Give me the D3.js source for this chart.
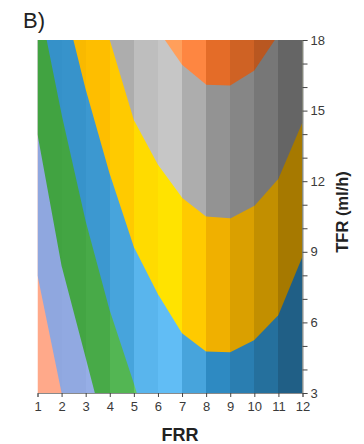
<!DOCTYPE html>
<html>
<head>
<meta charset="utf-8">
<script src="https://cdn.jsdelivr.net/npm/d3@7"></script>
<style>
  body { margin: 0; background: #fff; }
  svg { display: block; }
  text { font-family: "Liberation Sans", Arial, sans-serif; }
</style>
</head>
<body>
<svg id="chart" width="364" height="444"></svg>
<script>
// Axis ticks
const frrTicks = [1, 2, 3, 4, 5, 6, 7, 8, 9, 10, 11, 12];
const tfrTicks = [3, 6, 9, 12, 15, 18];
const tfrMinorTicks = [3, 4, 5, 6, 7, 8, 9, 10, 11, 12, 13, 14, 15, 16, 17, 18];

// Contour levels, lowest to highest
const levelNames = ["L1", "L2", "L3", "L4", "L5", "L6", "L7"];

// Lower/left edge of each level region as [FRR, TFR] points
const edgeL1 = [[1, 3]];
const edgeL2 = [[1, 8.0], [2.0, 3]];
const edgeL3 = [[1, 14.0], [2, 8.4], [3, 4.5], [3.38, 3]];
const edgeL4 = [[1.38, 18], [2, 14.84], [3, 10.3], [4, 6.5], [5, 3.4], [5.12, 3]];
const edgeL5 = [[2.49, 18], [3, 15.9], [4, 12.3], [5, 9.2], [6, 7.2], [7, 5.54], [8, 4.76], [9, 4.73], [10, 5.25], [11, 6.31], [12, 8.8]];
const edgeL6 = [[4, 18], [5, 14.6], [6, 12.7], [7, 11.3], [8, 10.5], [9, 10.42], [10, 10.95], [11, 12.1], [12, 14.5]];
const edgeL7 = [[6.29, 18], [7, 16.95], [8, 16.1], [9, 16.07], [10, 16.7], [10.85, 18]];

const levelEdges = [edgeL1, edgeL2, edgeL3, edgeL4, edgeL5, edgeL6, edgeL7];

// Styling: base colour per level and a lighting value per FRR column
const levelColors = ["#faa283", "#88a0d8", "#3a9c3a", "#2e8ac2", "#f0b000", "#939393", "#e46c28"];
const columnLight = [1.04, 1.05, 1.08, 1.15, 1.25, 1.3, 1.15, 1.0, 0.91, 0.81, 0.69];

const plot = { left: 37.5, right: 302.5, top: 40, bottom: 393 };

const svg = d3.select("#chart");

const x = d3.scaleLinear().domain([1, 12]).range([plot.left, plot.right]);
const y = d3.scaleLinear().domain([3, 18]).range([plot.bottom, plot.top]);

const [xMin, xMax] = x.domain();
const [yMin, yMax] = y.domain();

// Close a level edge into a polygon covering everything above/right of it
function levelPolygon(edge) {
  const pts = edge.slice();
  const first = edge[0], last = edge[edge.length - 1];
  if (last[1] === yMin) pts.push([xMax, yMin]);
  if (last[1] === yMin || last[0] === xMax) pts.push([xMax, yMax]);
  if (first[0] === xMin && first[1] < yMax) pts.push([xMin, yMax]);
  return pts;
}

// Lit columns get brighter additively, shaded columns darker multiplicatively
function shade(color, f) {
  const c = d3.rgb(color);
  const ch = v => f >= 1
    ? Math.min(255, v + (f - 1) * 170 * Math.min(1, v / 40))
    : v * f;
  return d3.rgb(ch(c.r), ch(c.g), ch(c.b)).formatHex();
}

const line = d3.line().x(d => x(d[0])).y(d => y(d[1]));

const defs = svg.append("defs");
const columns = d3.pairs(frrTicks);

columns.forEach(([a, b], i) => {
  const x0 = Math.round(x(a));
  const x1 = Math.round(x(b));
  defs.append("clipPath").attr("id", "col" + i)
    .append("rect")
    .attr("x", i === 0 ? x(a) : x0)
    .attr("y", plot.top)
    .attr("width", (i === columns.length - 1 ? x(b) : x1) - (i === 0 ? x(a) : x0))
    .attr("height", plot.bottom - plot.top);
});

const surface = svg.append("g");
columns.forEach((col, i) => {
  const g = surface.append("g").attr("clip-path", `url(#col${i})`);
  g.selectAll("path")
    .data(levelEdges.map((e, k) => ({ name: levelNames[k], pts: levelPolygon(e), k })))
    .join("path")
    .attr("d", d => line(d.pts) + "Z")
    .attr("fill", d => shade(levelColors[d.k], columnLight[i]))
    .attr("stroke", "none");
});

// Bottom axis (FRR)
const xAxis = svg.append("g")
  .attr("transform", `translate(0,${plot.bottom})`)
  .call(d3.axisBottom(x).tickValues(frrTicks).tickSize(4).tickPadding(5).tickFormat(d3.format("d")));

// Right axis (TFR)
const yAxis = svg.append("g")
  .attr("transform", `translate(${plot.right},0)`)
  .call(d3.axisRight(y).tickValues(tfrMinorTicks).tickSize(5).tickPadding(3)
    .tickFormat(d => tfrTicks.includes(d) ? d3.format("d")(d) : ""));

[xAxis, yAxis].forEach(ax => {
  ax.select(".domain").attr("stroke", "#8a8a8a").attr("stroke-width", 1);
  ax.selectAll(".tick line").attr("stroke", "#444");
  ax.selectAll(".tick text")
    .attr("fill", "#3a3a3a")
    .style("font-size", "13px")
    .style("font-family", '"Liberation Sans", Arial, sans-serif');
});

// Axis titles
svg.append("text")
  .attr("x", 180).attr("y", 441)
  .attr("text-anchor", "middle")
  .attr("font-weight", "bold")
  .attr("font-size", 18)
  .attr("fill", "#222")
  .text("FRR");

svg.append("text")
  .attr("transform", "translate(348,212) rotate(-90)")
  .attr("text-anchor", "middle")
  .attr("font-weight", "bold")
  .attr("font-size", 16.5)
  .attr("fill", "#222")
  .text("TFR (ml/h)");

// Panel label
svg.append("text")
  .attr("x", 23).attr("y", 28)
  .attr("font-size", 22)
  .attr("fill", "#222")
  .text("B)");
</script>
</body>
</html>
